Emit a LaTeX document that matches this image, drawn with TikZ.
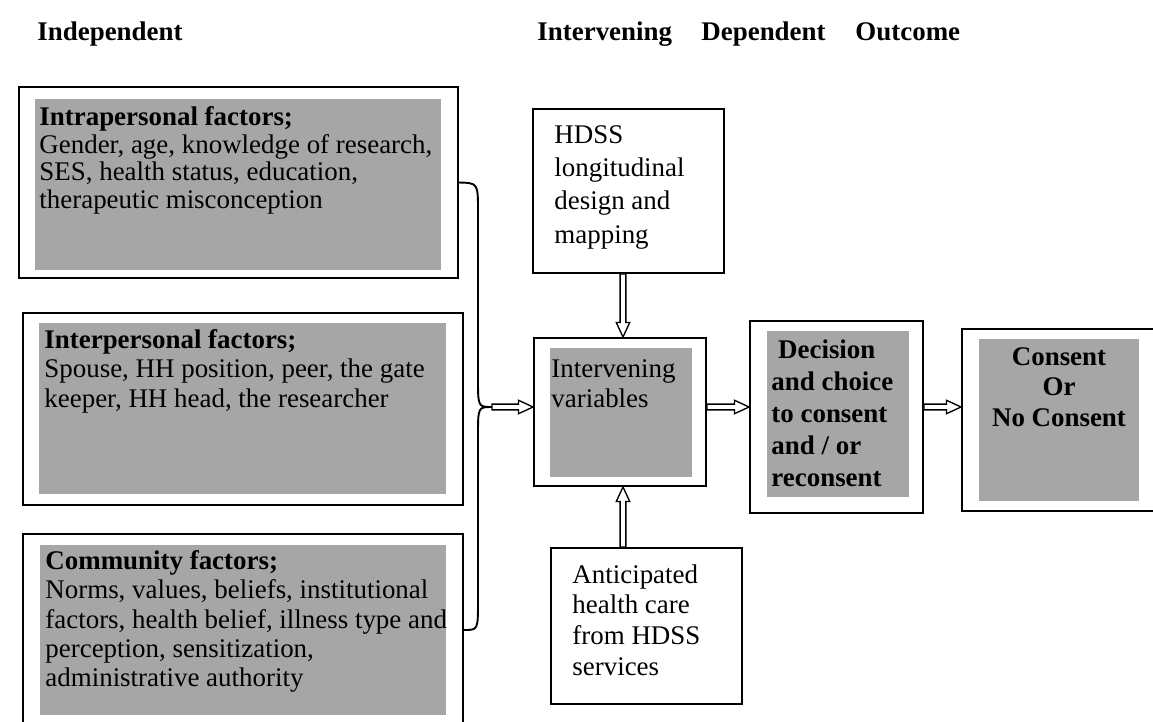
\documentclass[tikz,border=0pt]{standalone}
\usepackage{fontspec}
\setmainfont{Liberation Serif}
\usetikzlibrary{calc,fit}
\definecolor{boxgray}{RGB}{166,166,166}
\begin{document}
\begin{tikzpicture}[x=0.4457pt,y=-0.4457pt,
  outerbox/.style={draw,line width=0.85pt,inner sep=0pt},
  graybg/.style={fill=boxgray,inner sep=0pt},
  txt/.style={anchor=north west,inner sep=0pt,align=left,font=\fontsize{12}{13.1}\selectfont},
  colhead/.style={anchor=base west,inner sep=0pt,font=\fontsize{12}{14}\selectfont\bfseries},
  hollow/.style={line width=0.6pt,fill=white,to path={let \p1=(\tikztostart),\p2=(\tikztotarget),\p3=($(\p2)!6.5pt!(\p1)$) in
    ($(\p1)!1.3pt!90:(\p2)$) -- ($(\p3)!1.3pt!90:(\p2)$) -- ($(\p3)!3pt!90:(\p2)$) -- (\p2)
    -- ($(\p3)!3pt!-90:(\p2)$) -- ($(\p3)!1.3pt!-90:(\p2)$) -- ($(\p1)!1.3pt!-90:(\p2)$) -- cycle}}]
\useasboundingbox (0,0) rectangle (1153,722);
\node[colhead] (hIndep) at (37,40) {Independent};
\node[colhead] (hInterv) at (537,40) {Intervening};
\node[colhead] (hDep) at (701,40) {Dependent};
\node[colhead] (hOut) at (855,40) {Outcome};

\node[outerbox,fit={(19,87) (458,278)}] (intraF) {};
\node[graybg,fit={(35,99) (441,270)}] (intraG) {};
\node[txt,font=\fontsize{12}{12.3}\selectfont] (intraT) at (39,106) {\textbf{Intrapersonal factors;}\\Gender, age, knowledge of research,\\SES, health status, education,\\therapeutic misconception};

\node[outerbox,fit={(23,313) (463,505)}] (interF) {};
\node[graybg,fit={(39,323) (446,494)}] (interG) {};
\node[txt] (interT) at (44,329) {\textbf{Interpersonal factors;}\\Spouse, HH position, peer, the gate\\keeper, HH head, the researcher};

\node[outerbox,fit={(23,534) (463,726)}] (commF) {};
\node[graybg,fit={(40,545) (446,715)}] (commG) {};
\node[txt] (commT) at (45,550) {\textbf{Community factors;}\\Norms, values, beliefs, institutional\\factors, health belief, illness type and\\perception, sensitization,\\administrative authority};

\node[outerbox,fit={(533,109) (724,273)}] (hdss) {};
\node[txt,font=\fontsize{12}{14.85}\selectfont] (hdssT) at (554,125) {HDSS\\longitudinal\\design and\\mapping};

\node[outerbox,fit={(534,338) (706,486)}] (intvF) {};
\node[graybg,fit={(550,348) (692,477)}] (intvG) {};
\node[txt,font=\fontsize{12}{13.4}\selectfont] (intvT) at (551,359) {Intervening\\variables};

\node[outerbox,fit={(551,548) (742,704)}] (antic) {};
\node[txt,font=\fontsize{12}{13.7}\selectfont] (anticT) at (572,564) {Anticipated\\health care\\from HDSS\\services};

\node[outerbox,fit={(750,321) (923,513)}] (decF) {};
\node[graybg,fit={(767,331) (909,497)}] (decG) {};
\node[txt,font=\fontsize{12}{14.26}\selectfont\bfseries] (decT) at (771,339) {\hspace*{3pt}Decision\\and choice\\to consent\\and / or\\reconsent};

\node[outerbox,fit={(962,329) (1156,511)}] (consF) {};
\node[graybg,fit={(979,339) (1139,501)}] (consG) {};
\node[txt,anchor=north,align=center,font=\fontsize{12}{13.6}\selectfont\bfseries] (consT) at (1059,347) {Consent\\Or\\No Consent};

\coordinate (junc) at (492,407);
\coordinate (midcol) at (623,0);
\draw[line width=0.85pt] (intraF.east) .. controls (478,183) .. (478,212) -- (478,378) .. controls (478,407) .. (junc)
  .. controls (478,407) .. (478,436) -- (478,601) .. controls (478,630) .. (commF.east);
\draw[hollow] (junc) to (junc -| intvF.west);
\draw[hollow] (intvF.east |- junc) to (decF.west |- junc);
\draw[hollow] (decF.east |- junc) to (consF.west |- junc);
\draw[hollow] (hdss.south -| midcol) to (intvF.north -| midcol);
\draw[hollow] (antic.north -| midcol) to (intvF.south -| midcol);
\end{tikzpicture}
\end{document}
